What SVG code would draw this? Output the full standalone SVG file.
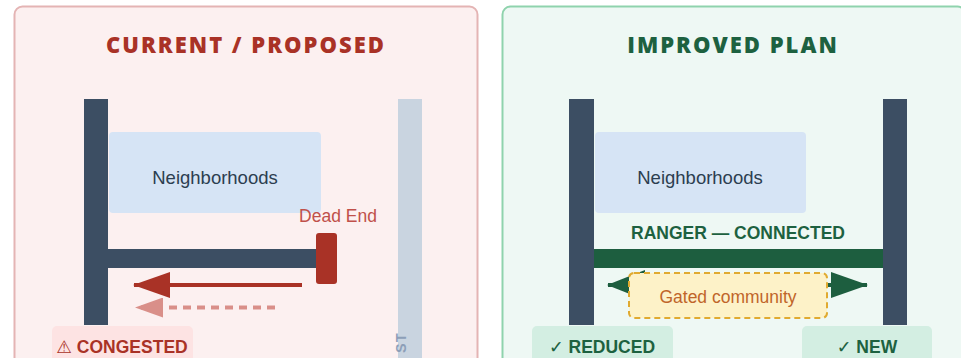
<svg xmlns="http://www.w3.org/2000/svg" width="961" height="358" viewBox="0 0 961 358">
<defs>
<style>
.title{font-family:"Open Sans","Liberation Sans",sans-serif;font-weight:800;font-size:22px;letter-spacing:2px;text-anchor:middle}
.lbl{font-family:"Liberation Sans",Arial,sans-serif;text-anchor:middle}
.bold{font-weight:700}
.road{fill:#3c4e63}
.nb{fill:#d6e4f5}
.badge-txt{font-family:"Liberation Sans","DejaVu Sans",sans-serif;font-weight:700;font-size:17.5px;text-anchor:middle}
</style>
<marker id="redHead" markerUnits="userSpaceOnUse" markerWidth="37" markerHeight="26" refX="36" refY="13" orient="auto" viewBox="0 0 37 26">
<path d="M0,0 L37,13 L0,26 Z" fill="#a93226"/>
</marker>
<marker id="pinkHead" markerUnits="userSpaceOnUse" markerWidth="28" markerHeight="20" refX="27" refY="10" orient="auto" viewBox="0 0 28 20">
<path d="M0,0 L28,10 L0,20 Z" fill="#d98f89"/>
</marker>
<marker id="greenHead" markerUnits="userSpaceOnUse" markerWidth="37" markerHeight="26" refX="36" refY="13" orient="auto-start-reverse" viewBox="0 0 37 26">
<path d="M0,0 L37,13 L0,26 Z" fill="#1d5e3f"/>
</marker>
<marker id="greenHeadL" markerUnits="userSpaceOnUse" markerWidth="38" markerHeight="30" refX="37" refY="15" orient="auto-start-reverse" viewBox="0 0 38 30">
<path d="M0,0 L38,15 L0,30 Z" fill="#1d5e3f"/>
</marker>
</defs>

<g id="panel-current">
<rect x="14.5" y="6.5" width="463" height="370" rx="8" fill="#fcf0f0" stroke="#e4b4b4" stroke-width="2"/>
<text class="title" x="246" y="53" fill="#a93226">CURRENT / PROPOSED</text>
</g>
<g id="panel-improved">
<rect x="502.5" y="6.5" width="463" height="370" rx="8" fill="#eef8f4" stroke="#8fd3ad" stroke-width="2"/>
<text class="title" x="733" y="53" fill="#1d6140">IMPROVED PLAN</text>
</g>

<g id="left-roads">
<rect class="road" x="84" y="99" width="24" height="226"/>
<rect x="398" y="99" width="24" height="270" fill="#c9d4e0"/>
<text x="406" y="353" transform="rotate(-90 406 353)" font-family="Liberation Sans,Arial,sans-serif" font-weight="700" font-size="14.5" letter-spacing="1" fill="#8d9fb8">ST</text>
<rect class="road" x="108" y="249" width="212" height="19"/>
</g>
<g id="left-neighborhoods">
<rect class="nb" x="109" y="132" width="212" height="81" rx="4"/>
<text class="lbl" x="215" y="184" font-size="18.5" fill="#2c3e50">Neighborhoods</text>
</g>
<g id="dead-end">
<rect x="316" y="233" width="21" height="51" rx="3" fill="#a93226"/>
<text class="lbl" x="338" y="222" font-size="17.5" fill="#c0504a">Dead End</text>
</g>
<g id="congested">
<rect x="52" y="326" width="141" height="50" rx="5" fill="#fde3e3"/>
<text class="badge-txt" x="122" y="353" fill="#a93226">⚠ CONGESTED</text>
</g>

<g id="right-roads">
<rect class="road" x="569" y="99" width="25" height="226"/>
<rect class="road" x="883" y="99" width="24" height="226"/>
<rect x="594" y="249" width="289" height="19" fill="#1d5e3f"/>
<text class="lbl bold" x="738" y="239" font-size="17.5" fill="#1d6140">RANGER — CONNECTED</text>
</g>
<g id="right-neighborhoods">
<rect class="nb" x="595" y="132" width="211" height="81" rx="4"/>
<text class="lbl" x="700" y="184" font-size="18.5" fill="#2c3e50">Neighborhoods</text>
</g>

<g id="connectors">
<line x1="302" y1="285" x2="134" y2="285" stroke="#a93226" stroke-width="4" marker-end="url(#redHead)"/>
<line x1="275" y1="307.5" x2="136" y2="307.5" stroke="#d98f89" stroke-width="4" stroke-dasharray="8 6" marker-end="url(#pinkHead)"/>
<line x1="608" y1="285" x2="867" y2="285" stroke="#1d5e3f" stroke-width="4" marker-start="url(#greenHeadL)" marker-end="url(#greenHead)"/>
</g>

<g id="gated">
<rect x="629" y="273" width="198" height="45" rx="5" fill="#fdf2c8" stroke="#e0aa30" stroke-width="2" stroke-dasharray="6 4"/>
<text class="lbl" x="728" y="303" font-size="17.5" fill="#c0652a">Gated community</text>
</g>

<g id="reduced">
<rect x="532" y="326" width="141" height="50" rx="5" fill="#d3eee2"/>
<text class="badge-txt" x="602" y="353" fill="#1d6140">✓ REDUCED</text>
</g>
<g id="new">
<rect x="802" y="326" width="130" height="50" rx="5" fill="#d3eee2"/>
<text class="badge-txt" x="867" y="353" fill="#1d6140">✓ NEW</text>
</g>
</svg>
